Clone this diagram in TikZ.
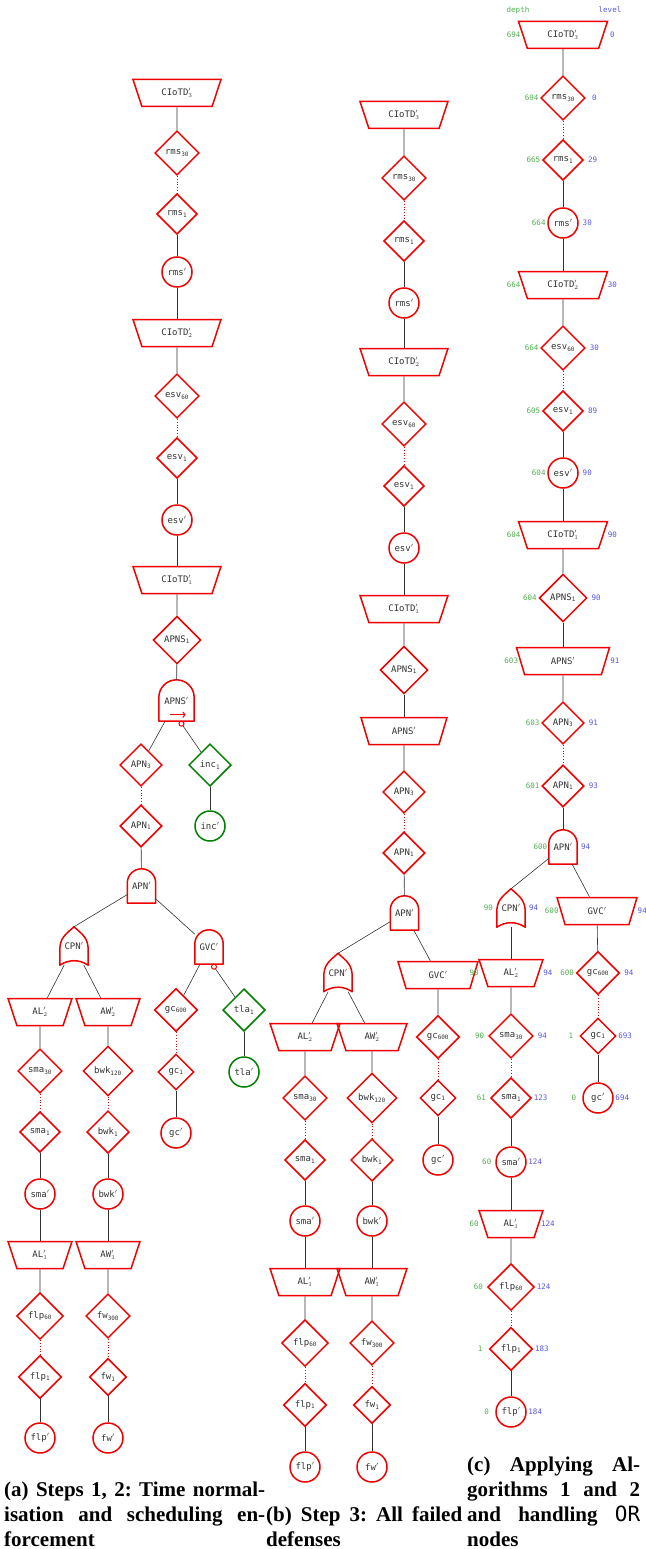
\documentclass[tikz,border=0pt]{standalone}
\usepackage{fontspec}
\setmainfont{Liberation Serif}
\setmonofont{DejaVu Sans Mono}
\usetikzlibrary{shapes.geometric,calc,arrows.meta}

\definecolor{gatered}{RGB}{240,0,0}
\definecolor{safegreen}{RGB}{0,128,0}
\definecolor{depthgreen}{RGB}{80,175,80}
\definecolor{levelblue}{RGB}{85,85,235}

\newcommand{\ndfont}{\ttfamily\fontsize{9}{10}\selectfont}
\newcommand{\lblfont}{\ttfamily\fontsize{7.5}{8}\selectfont}
\newcommand{\andshape}[1]{%
  \draw[gateline] let \p1=(#1.south west), \p2=(#1.north east) in
    (\p1) -- (\x1,{\y2-(\x2-\x1)/2}) arc[start angle=180,end angle=0,radius={(\x2-\x1)/2}]
    -- (\x2,\y1) -- cycle;}
\newcommand{\orshape}[1]{%
  \draw[gateline] (#1.south west) -- ([yshift=15pt]#1.south west)
    .. controls +(0,12pt) and +(-9pt,-8pt) .. (#1.north)
    .. controls +(9pt,-8pt) and +(0,12pt) .. ([yshift=15pt]#1.south east)
    -- (#1.south east) .. controls +(-9pt,6pt) and +(9pt,6pt) .. (#1.south west) -- cycle;}

\tikzset{
  dia/.style={diamond,aspect=1,draw=gatered,line width=1.5pt,inner sep=3.5pt,text=black!80,font=\ndfont},
  leaf/.style={circle,draw=gatered,line width=1.5pt,inner sep=1pt,minimum size=30pt,text=black!80,font=\ndfont},
  trap/.style={trapezium,trapezium left angle=60,trapezium right angle=60,shape border rotate=180,
    trapezium stretches body,draw=gatered,line width=1.5pt,minimum height=27pt,minimum width=64pt,
    inner xsep=4pt,text=black!80,font=\ndfont},
  andg/.style={minimum width=28pt,minimum height=34pt,inner sep=0pt,text=black!80,font=\ndfont},
  org/.style={minimum width=28pt,minimum height=38pt,inner sep=0pt,text=black!80,font=\ndfont},
  safe/.style={draw=safegreen},
  seqdot/.style={circle,draw=gatered,line width=1pt,minimum size=5pt,inner sep=0pt},
  seqarrow/.style={draw=gatered,line width=1.1pt,-{To[length=3pt,width=6pt]}},
  gateline/.style={draw=gatered,line width=1.5pt,line join=round},
  lnk/.style={draw=black!80,line width=0.6pt},
  dotlnk/.style={draw=gatered,dotted,line width=0.8pt},
  dlab/.style={anchor=center,text=depthgreen,font=\lblfont,inner sep=0pt},
  llab/.style={anchor=center,text=levelblue,font=\lblfont,inner sep=0pt},
  dep/.style 2 args={label={[dlab]left:#1},label={[llab]right:#2}},
  capt/.style={anchor=south west,inner sep=0pt,align=justify,font=\bfseries\fontsize{21}{25}\selectfont}
}

\begin{document}
\begin{tikzpicture}[x=1pt,y=-1pt,label distance=8.5pt]
  \useasboundingbox (0,0) rectangle (645,1549);

  % (a)
  \node[trap,minimum width=88pt] (a-cio3) at (177,93) {CIoTD$'_3$};
  \node[dia]  (a-rms30) at (177,153) {rms\textsubscript{30}};
  \node[dia]  (a-rms1)  at (177,214) {rms\textsubscript{1}};
  \node[leaf] (a-rmsp)  at (177,272) {rms$'$};
  \node[trap,minimum width=88pt] (a-cio2) at (177,333) {CIoTD$'_2$};
  \node[dia]  (a-esv60) at (177,396) {esv\textsubscript{60}};
  \node[dia]  (a-esv1)  at (177,458) {esv\textsubscript{1}};
  \node[leaf] (a-esvp)  at (177,520) {esv$'$};
  \node[trap,minimum width=88pt] (a-cio1) at (177,580) {CIoTD$'_1$};
  \node[dia]  (a-apns1) at (177,640) {APNS\textsubscript{1}};
  \node[andg,minimum width=35pt,minimum height=41pt] (a-apns) at (176.5,700.5) {APNS$'$};
  \node[seqdot] (a-apnsd) at ([xshift=5pt,yshift=-2.5pt]a-apns.south) {};
  \node[dia]  (a-apn3) at (141,765) {APN\textsubscript{3}};
  \node[dia,safe]  (a-inc1) at (210,765) {inc\textsubscript{1}};
  \node[leaf,safe] (a-incp) at (210,826) {inc$'$};
  \node[dia]  (a-apn1) at (141,826) {APN\textsubscript{1}};
  \node[andg] (a-apn)  at (141.5,886) {APN$'$};
  \node[org]  (a-cpn)  at (74,946) {CPN$'$};
  \node[andg] (a-gvc)  at (209,947) {GVC$'$};
  \node[seqdot] (a-gvcd) at ([xshift=5pt,yshift=-2.5pt]a-gvc.south) {};
  \node[trap] (a-al2)   at (40,1012)  {AL$'_2$};
  \node[trap] (a-aw2)   at (108,1012) {AW$'_2$};
  \node[dia]  (a-gc600) at (176,1010) {gc\textsubscript{600}};
  \node[dia,safe] (a-tla1) at (244,1010) {tla\textsubscript{1}};
  \node[dia]  (a-sma30)  at (40,1071)  {sma\textsubscript{30}};
  \node[dia]  (a-bwk120) at (108,1071) {bwk\textsubscript{120}};
  \node[dia]  (a-gc1)    at (176,1072) {gc\textsubscript{1}};
  \node[leaf,safe] (a-tlap) at (244,1072) {tla$'$};
  \node[dia]  (a-sma1) at (40,1132)  {sma\textsubscript{1}};
  \node[dia]  (a-bwk1) at (108,1132) {bwk\textsubscript{1}};
  \node[leaf] (a-gcp)  at (176,1133) {gc$'$};
  \node[leaf] (a-smap) at (40,1194)  {sma$'$};
  \node[leaf] (a-bwkp) at (108,1194) {bwk$'$};
  \node[trap] (a-al1)  at (40,1255)  {AL$'_1$};
  \node[trap] (a-aw1)  at (108,1255) {AW$'_1$};
  \node[dia]  (a-flp60) at (40,1316)  {flp\textsubscript{60}};
  \node[dia]  (a-fw300) at (108,1316) {fw\textsubscript{300}};
  \node[dia]  (a-flp1)  at (40,1377)  {flp\textsubscript{1}};
  \node[dia]  (a-fw1)   at (108,1377) {fw\textsubscript{1}};
  \node[leaf] (a-flpp)  at (40,1438)  {flp$'$};
  \node[leaf] (a-fwp)   at (108,1438) {fw$'$};
  \andshape{a-apns}
  \draw[seqarrow] ([xshift=-7pt,yshift=6.5pt]a-apns.south) -- ([xshift=9pt,yshift=6.5pt]a-apns.south);
  \andshape{a-apn}
  \andshape{a-gvc}
  \orshape{a-cpn}
  \foreach \a/\b in {a-cio3/a-rms30,a-rms1/a-rmsp,a-rmsp/a-cio2,a-cio2/a-esv60,a-esv1/a-esvp,
    a-esvp/a-cio1,a-cio1/a-apns1,a-apns1/a-apns,a-apns/a-apn3,a-apnsd/a-inc1,a-inc1/a-incp,
    a-apn1/a-apn,a-apn/a-cpn.north,a-apn/a-gvc,a-cpn/a-al2,a-cpn/a-aw2,a-gvc/a-gc600,a-gvcd/a-tla1,
    a-tla1/a-tlap,a-gc1/a-gcp,a-al2/a-sma30,a-aw2/a-bwk120,a-sma1/a-smap,a-bwk1/a-bwkp,
    a-smap/a-al1,a-bwkp/a-aw1,a-al1/a-flp60,a-aw1/a-fw300,a-flp1/a-flpp,a-fw1/a-fwp}
    \draw[lnk] (\a) -- (\b);
  \foreach \a/\b in {a-rms30/a-rms1,a-esv60/a-esv1,a-apn3/a-apn1,a-gc600/a-gc1,
    a-sma30/a-sma1,a-bwk120/a-bwk1,a-flp60/a-flp1,a-fw300/a-fw1}
    \draw[dotlnk] (\a) -- (\b);

  % (b)
  \node[trap,minimum width=88pt] (b-cio3) at (404,115) {CIoTD$'_3$};
  \node[dia]  (b-rms30) at (404,178) {rms\textsubscript{30}};
  \node[dia]  (b-rms1)  at (404,241) {rms\textsubscript{1}};
  \node[leaf] (b-rmsp)  at (404,303) {rms$'$};
  \node[trap,minimum width=88pt] (b-cio2) at (404,362) {CIoTD$'_2$};
  \node[dia]  (b-esv60) at (404,424) {esv\textsubscript{60}};
  \node[dia]  (b-esv1)  at (404,486) {esv\textsubscript{1}};
  \node[leaf] (b-esvp)  at (404,548) {esv$'$};
  \node[trap,minimum width=88pt] (b-cio1) at (404,609) {CIoTD$'_1$};
  \node[dia]  (b-apns1) at (404,670) {APNS\textsubscript{1}};
  \node[trap,minimum width=86pt] (b-apns) at (404,731) {APNS$'$};
  \node[dia]  (b-apn3) at (404,792) {APN\textsubscript{3}};
  \node[dia]  (b-apn1) at (404,853) {APN\textsubscript{1}};
  \node[andg] (b-apn)  at (404.5,913) {APN$'$};
  \node[org]  (b-cpn)  at (338,972.5) {CPN$'$};
  \node[trap,minimum width=80pt] (b-gvc) at (438,975) {GVC$'$};
  \node[trap,minimum width=70pt] (b-al2) at (305,1037) {AL$'_2$};
  \node[trap,minimum width=70pt] (b-aw2) at (372,1037) {AW$'_2$};
  \node[dia]  (b-gc600)  at (438,1037) {gc\textsubscript{600}};
  \node[dia]  (b-sma30)  at (305,1098) {sma\textsubscript{30}};
  \node[dia]  (b-bwk120) at (372,1098) {bwk\textsubscript{120}};
  \node[dia]  (b-gc1)    at (438,1098) {gc\textsubscript{1}};
  \node[dia]  (b-sma1) at (305,1160) {sma\textsubscript{1}};
  \node[dia]  (b-bwk1) at (372,1160) {bwk\textsubscript{1}};
  \node[leaf] (b-gcp)  at (438,1160) {gc$'$};
  \node[leaf] (b-smap) at (305,1221) {sma$'$};
  \node[leaf] (b-bwkp) at (372,1221) {bwk$'$};
  \node[trap,minimum width=70pt] (b-al1) at (305,1282) {AL$'_1$};
  \node[trap,minimum width=70pt] (b-aw1) at (372,1282) {AW$'_1$};
  \node[dia]  (b-flp60) at (305,1343) {flp\textsubscript{60}};
  \node[dia]  (b-fw300) at (372,1343) {fw\textsubscript{300}};
  \node[dia]  (b-flp1)  at (305,1405) {flp\textsubscript{1}};
  \node[dia]  (b-fw1)   at (372,1405) {fw\textsubscript{1}};
  \node[leaf] (b-flpp)  at (305,1467) {flp$'$};
  \node[leaf] (b-fwp)   at (372,1467) {fw$'$};
  \andshape{b-apn}
  \orshape{b-cpn}
  \foreach \a/\b in {b-cio3/b-rms30,b-rms1/b-rmsp,b-rmsp/b-cio2,b-cio2/b-esv60,b-esv1/b-esvp,
    b-esvp/b-cio1,b-cio1/b-apns1,b-apns1/b-apns,b-apns/b-apn3,b-apn1/b-apn,b-apn/b-cpn.north,
    b-apn/b-gvc,b-cpn/b-al2,b-cpn/b-aw2,b-gvc/b-gc600,b-gc1/b-gcp,b-al2/b-sma30,b-aw2/b-bwk120,
    b-sma1/b-smap,b-bwk1/b-bwkp,b-smap/b-al1,b-bwkp/b-aw1,b-al1/b-flp60,b-aw1/b-fw300,
    b-flp1/b-flpp,b-fw1/b-fwp}
    \draw[lnk] (\a) -- (\b);
  \foreach \a/\b in {b-rms30/b-rms1,b-esv60/b-esv1,b-apn3/b-apn1,b-gc600/b-gc1,
    b-sma30/b-sma1,b-bwk120/b-bwk1,b-flp60/b-flp1,b-fw300/b-fw1}
    \draw[dotlnk] (\a) -- (\b);

  % (c)
  \node[dlab] (depth-h) at (518,10) {depth};
  \node[llab] (level-h) at (610,10) {level};
  \node[trap,minimum width=89pt,dep={694}{0}] (c-cio3) at (563,35) {CIoTD$'_3$};
  \node[dia,dep={694}{0}]   (c-rms30) at (563,98)  {rms\textsubscript{30}};
  \node[dia,dep={665}{29}]  (c-rms1)  at (563,160) {rms\textsubscript{1}};
  \node[leaf,dep={664}{30}] (c-rmsp)  at (563,223) {rms$'$};
  \node[trap,minimum width=89pt,dep={664}{30}] (c-cio2) at (563,285) {CIoTD$'_2$};
  \node[dia,dep={664}{30}]  (c-esv60) at (563,348) {esv\textsubscript{60}};
  \node[dia,dep={605}{89}]  (c-esv1)  at (563,411) {esv\textsubscript{1}};
  \node[leaf,dep={604}{90}] (c-esvp)  at (563,473) {esv$'$};
  \node[trap,minimum width=89pt,dep={604}{90}] (c-cio1) at (563,535) {CIoTD$'_1$};
  \node[dia,dep={604}{90}]  (c-apns1) at (563,598) {APNS\textsubscript{1}};
  \node[trap,minimum width=93pt,dep={603}{91}] (c-apns) at (563,661) {APNS$'$};
  \node[dia,dep={603}{91}]  (c-apn3) at (563,723) {APN\textsubscript{3}};
  \node[dia,dep={601}{93}]  (c-apn1) at (563,786) {APN\textsubscript{1}};
  \node[andg,dep={600}{94}] (c-apn)  at (563,847) {APN$'$};
  \node[org,dep={90}{94}]   (c-cpn)  at (511,908) {CPN$'$};
  \node[trap,minimum width=80pt,dep={600}{94}] (c-gvc) at (597,911) {GVC$'$};
  \node[trap,dep={90}{94}]  (c-al2)   at (511,973) {AL$'_2$};
  \node[dia,dep={600}{94}]  (c-gc600) at (598,973) {gc\textsubscript{600}};
  \node[dia,dep={90}{94}]   (c-sma30) at (511,1036) {sma\textsubscript{30}};
  \node[dia,dep={1}{693}]   (c-gc1)   at (598,1036) {gc\textsubscript{1}};
  \node[dia,dep={61}{123}]  (c-sma1)  at (511,1098) {sma\textsubscript{1}};
  \node[leaf,dep={0}{694}]  (c-gcp)   at (598,1098) {gc$'$};
  \node[leaf,dep={60}{124}] (c-smap)  at (511,1162) {sma$'$};
  \node[trap,dep={60}{124}] (c-al1)   at (511,1224) {AL$'_1$};
  \node[dia,dep={60}{124}]  (c-flp60) at (511,1287) {flp\textsubscript{60}};
  \node[dia,dep={1}{183}]   (c-flp1)  at (511,1349) {flp\textsubscript{1}};
  \node[leaf,dep={0}{184}]  (c-flpp)  at (511,1412) {flp$'$};
  \andshape{c-apn}
  \orshape{c-cpn}
  \foreach \a/\b in {c-cio3/c-rms30,c-rms1/c-rmsp,c-rmsp/c-cio2,c-cio2/c-esv60,c-esv1/c-esvp,
    c-esvp/c-cio1,c-cio1/c-apns1,c-apns1/c-apns,c-apns/c-apn3,c-apn1/c-apn,c-apn/c-cpn.north,
    c-apn/c-gvc,c-cpn/c-al2,c-gvc/c-gc600,c-gc1/c-gcp,c-al2/c-sma30,c-sma1/c-smap,
    c-smap/c-al1,c-al1/c-flp60,c-flp1/c-flpp}
    \draw[lnk] (\a) -- (\b);
  \foreach \a/\b in {c-rms30/c-rms1,c-esv60/c-esv1,c-apn3/c-apn1,c-gc600/c-gc1,
    c-sma30/c-sma1,c-flp60/c-flp1}
    \draw[dotlnk] (\a) -- (\b);

  % captions
  \node[capt,text width=261pt] (cap-a) at (4,1547)
    {\hyphenpenalty=10000\noindent (a)~Steps~1,~2:~Time~normal-\linebreak
     isation~and~scheduling~en-\linebreak forcement};
  \node[capt,text width=196pt] (cap-b) at (266,1547)
    {\hyphenpenalty=10000\noindent (b)~Step~3:~All~failed\linebreak defenses};
  \node[capt,text width=173pt] (cap-c) at (467,1547)
    {\hyphenpenalty=10000\noindent (c)~Applying~Al-\linebreak gorithms~1~and~2\linebreak
     and~handling~{\mdseries\ttfamily OR}\linebreak nodes};
\end{tikzpicture}
\end{document}
